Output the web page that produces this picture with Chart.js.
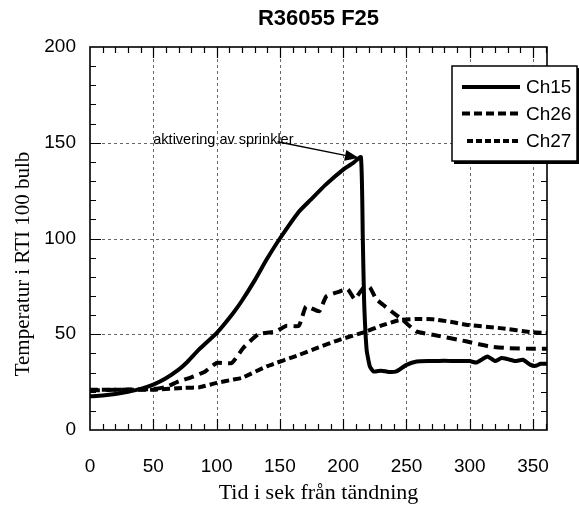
<!DOCTYPE html>
<html><head><meta charset="utf-8">
<script src="https://cdn.jsdelivr.net/npm/chart.js@4"></script>
<style>html,body{margin:0;padding:0;background:#fff}#wrap{width:579px;height:507px;position:relative}</style>
</head><body><div id="wrap"><canvas id="c" width="579" height="507"></canvas></div>
<script>
// ---- data ----
const chartTitle = 'R36055 F25';
const xTitle = 'Tid i sek från tändning';
const yTitle = 'Temperatur i RTI 100 bulb';
const annotationText = 'aktivering av sprinkler';
const seriesNames = ['Ch15', 'Ch26', 'Ch27'];
const xTickLabels = [0, 50, 100, 150, 200, 250, 300, 350];
const yTickLabels = [0, 50, 100, 150, 200];
const xRange = [0, 361];
const yRange = [0, 200];
const minorStep = 10;
const annotationAt = [50, 150];        // text anchor (time, temperature)
const annotationTarget = [214, 142.5]; // arrow points at sprinkler activation

const ch15T = [0, 10, 20, 30, 40, 50, 60, 70, 76, 86, 100, 113, 120, 130, 139.5, 150, 165, 174, 186, 200, 208, 214, 215.5, 216.5, 218.5, 221, 224, 230, 236, 242, 250, 258, 270, 280, 290, 300, 305, 310, 314, 320, 325, 330, 336, 342, 348, 352, 356, 361];
const ch15V = [17.6, 18, 18.8, 20, 21.5, 23.7, 27, 31.5, 35, 42, 50.6, 61, 67.5, 78, 89, 100, 114, 120, 128, 136, 139.5, 142.5, 100, 68, 42, 33.3, 30.5, 31, 30.3, 30.6, 34, 35.8, 36, 36.2, 36, 36, 35.2, 37, 38.4, 36, 37.6, 37, 36, 36.7, 34, 33.5, 34.6, 34.6];

const ch26T = [0, 20, 40, 50, 60, 70, 80, 91, 100, 112, 121, 133, 147, 155, 165, 170.7, 181, 186.6, 197, 203.6, 209, 215.7, 221, 226, 231.5, 238, 247, 257.6, 270.8, 297, 315.6, 330, 350, 361];
const ch26V = [20.7, 21, 21.2, 21.4, 22.5, 25.4, 27.5, 30.6, 35, 35, 42.8, 50, 51.5, 54.4, 54.4, 64.5, 62, 69.7, 72.3, 73.5, 68.4, 74, 74.5, 68.4, 65.4, 62, 57.5, 51.5, 49.7, 46.3, 43.6, 42.8, 42.4, 42.4];

const ch27T = [0, 25, 50, 75, 86.5, 100, 113, 120, 139.5, 165.5, 180, 197, 218.6, 230, 245, 257.6, 270.8, 285, 297, 324, 350, 361];
const ch27V = [21, 21, 21, 22, 22.3, 24.6, 26.3, 27.2, 33.2, 39.3, 43, 47.1, 51.5, 54.5, 57.5, 58, 57.8, 56.5, 55, 53.2, 51, 50.6];

const zip = (t, v) => t.map((x, i) => ({x: x, y: v[i]}));

// ---- styles ----
const sans = '"Liberation Sans", Arial, sans-serif';
const serif = '"Liberation Serif", "Times New Roman", serif';
const styles = [
  {color: '#000', width: 4, dash: [], legendDash: []},
  {color: '#000', width: 4, dash: [10, 6], legendDash: [8, 4]},
  {color: '#000', width: 4, dash: [8, 4], legendDash: [6, 3]}
];

const decor = {
  id: 'decor',
  beforeDatasetsDraw(chart) {
    const {ctx, chartArea: a, scales: {x, y}} = chart;
    ctx.save();
    ctx.strokeStyle = '#666';
    ctx.lineWidth = 1;
    ctx.setLineDash([3, 3]);
    xTickLabels.forEach(v => {
      if (v <= xRange[0]) return;
      const px = Math.round(x.getPixelForValue(v)) + 0.5;
      ctx.beginPath(); ctx.moveTo(px, a.top); ctx.lineTo(px, a.bottom); ctx.stroke();
    });
    yTickLabels.forEach(v => {
      if (v <= yRange[0] || v >= yRange[1]) return;
      const py = Math.round(y.getPixelForValue(v)) + 0.5;
      ctx.beginPath(); ctx.moveTo(a.left, py); ctx.lineTo(a.right, py); ctx.stroke();
    });
    ctx.restore();
  },
  afterDatasetsDraw(chart) {
    const {ctx, chartArea: a, scales: {x, y}} = chart;
    ctx.save();
    ctx.setLineDash([]);
    ctx.strokeStyle = '#000';
    // ticks
    ctx.lineWidth = 1.2;
    for (let v = xRange[0] + minorStep; v < xRange[1]; v += minorStep) {
      const major = v % 50 === 0;
      const len = major ? 11 : 6;
      const px = Math.round(x.getPixelForValue(v)) + 0.5;
      ctx.beginPath();
      ctx.moveTo(px, a.bottom); ctx.lineTo(px, a.bottom - len);
      ctx.moveTo(px, a.top); ctx.lineTo(px, a.top + len);
      ctx.stroke();
    }
    for (let v = yRange[0] + minorStep; v < yRange[1]; v += minorStep) {
      const major = v % 50 === 0;
      const len = major ? 11 : 6;
      const py = Math.round(y.getPixelForValue(v)) + 0.5;
      ctx.beginPath();
      ctx.moveTo(a.left, py); ctx.lineTo(a.left + len, py);
      ctx.moveTo(a.right, py); ctx.lineTo(a.right - len, py);
      ctx.stroke();
    }
    // frame
    ctx.lineWidth = 1.6;
    ctx.strokeRect(a.left, a.top, a.right - a.left, a.bottom - a.top);

    // annotation
    ctx.font = '14.5px ' + sans;
    ctx.fillStyle = '#000';
    ctx.textBaseline = 'alphabetic';
    ctx.textAlign = 'left';
    const tx = x.getPixelForValue(annotationAt[0]);
    const ty = y.getPixelForValue(annotationAt[1]) + 1;
    ctx.fillText(annotationText, tx, ty);
    const tw = ctx.measureText(annotationText).width;
    const sx = tx + tw - 16, sy = ty - 2;
    const ex = x.getPixelForValue(annotationTarget[0]) - 2, ey = y.getPixelForValue(annotationTarget[1]) + 1;
    const ang = Math.atan2(ey - sy, ex - sx);
    const hl = 14, hw = 5.5;
    const bx = ex - hl * Math.cos(ang), by = ey - hl * Math.sin(ang);
    ctx.lineWidth = 1.3;
    ctx.beginPath(); ctx.moveTo(sx, sy); ctx.lineTo(bx, by); ctx.stroke();
    ctx.beginPath();
    ctx.moveTo(ex, ey);
    ctx.lineTo(bx + hw * Math.sin(ang), by - hw * Math.cos(ang));
    ctx.lineTo(bx - hw * Math.sin(ang), by + hw * Math.cos(ang));
    ctx.closePath(); ctx.fill();

    // legend
    const L = {x: 452, y: 66, w: 125, h: 95};
    ctx.fillStyle = '#000';
    ctx.fillRect(L.x + 2, L.y + 2, L.w, L.h + 1);
    ctx.fillStyle = '#fff';
    ctx.fillRect(L.x, L.y, L.w, L.h);
    ctx.lineWidth = 1.5;
    ctx.strokeRect(L.x, L.y, L.w, L.h);
    const rows = [87, 113.5, 141];
    const starts = [462, 462, 467];
    ctx.font = '19px ' + sans;
    ctx.textBaseline = 'middle';
    chart.data.datasets.forEach((ds, i) => {
      ctx.strokeStyle = ds.borderColor;
      ctx.lineWidth = ds.borderWidth;
      ctx.setLineDash(styles[i].legendDash);
      ctx.beginPath(); ctx.moveTo(starts[i], rows[i]); ctx.lineTo(520, rows[i]); ctx.stroke();
      ctx.setLineDash([]);
      ctx.fillStyle = '#000';
      ctx.fillText(ds.label, 526, rows[i] + 1);
    });

    // titles
    ctx.textAlign = 'center';
    ctx.textBaseline = 'middle';
    ctx.font = 'bold 22px ' + sans;
    ctx.fillText(chartTitle, (a.left + a.right) / 2, 19);
    ctx.font = '22px ' + serif;
    ctx.fillText(xTitle, (a.left + a.right) / 2, 493);
    ctx.save();
    ctx.translate(23, 264);
    ctx.rotate(-Math.PI / 2);
    ctx.font = '21px ' + serif;
    ctx.fillText(yTitle, 0, 0);
    ctx.restore();
    ctx.restore();
  }
};

const datasets = [zip(ch15T, ch15V), zip(ch26T, ch26V), zip(ch27T, ch27V)].map((d, i) => ({
  label: seriesNames[i],
  data: d,
  borderColor: styles[i].color,
  borderWidth: styles[i].width,
  borderDash: styles[i].dash,
  pointRadius: 0,
  tension: 0.15,
  fill: false,
  borderCapStyle: 'butt',
  borderJoinStyle: 'round'
}));

new Chart(document.getElementById('c'), {
  type: 'line',
  data: {datasets: datasets},
  options: {
    responsive: false,
    animation: false,
    devicePixelRatio: 1,
    layout: {padding: {top: 47, right: 32, left: 0, bottom: 0}},
    plugins: {legend: {display: false}, title: {display: false}, tooltip: {enabled: false}},
    scales: {
      x: {
        type: 'linear', min: xRange[0], max: xRange[1],
        afterBuildTicks: s => { s.ticks = xTickLabels.map(v => ({value: v})); },
        afterFit: s => { s.height = 77; },
        grid: {display: false, drawTicks: false},
        border: {display: false},
        ticks: {font: {family: sans, size: 19}, color: '#000', padding: 25, maxRotation: 0, autoSkip: false}
      },
      y: {
        type: 'linear', min: yRange[0], max: yRange[1],
        afterBuildTicks: s => { s.ticks = yTickLabels.map(v => ({value: v})); },
        afterFit: s => { s.width = 90; },
        grid: {display: false, drawTicks: false},
        border: {display: false},
        ticks: {font: {family: sans, size: 19}, color: '#000', padding: 14}
      }
    }
  },
  plugins: [decor]
});
</script></body></html>
